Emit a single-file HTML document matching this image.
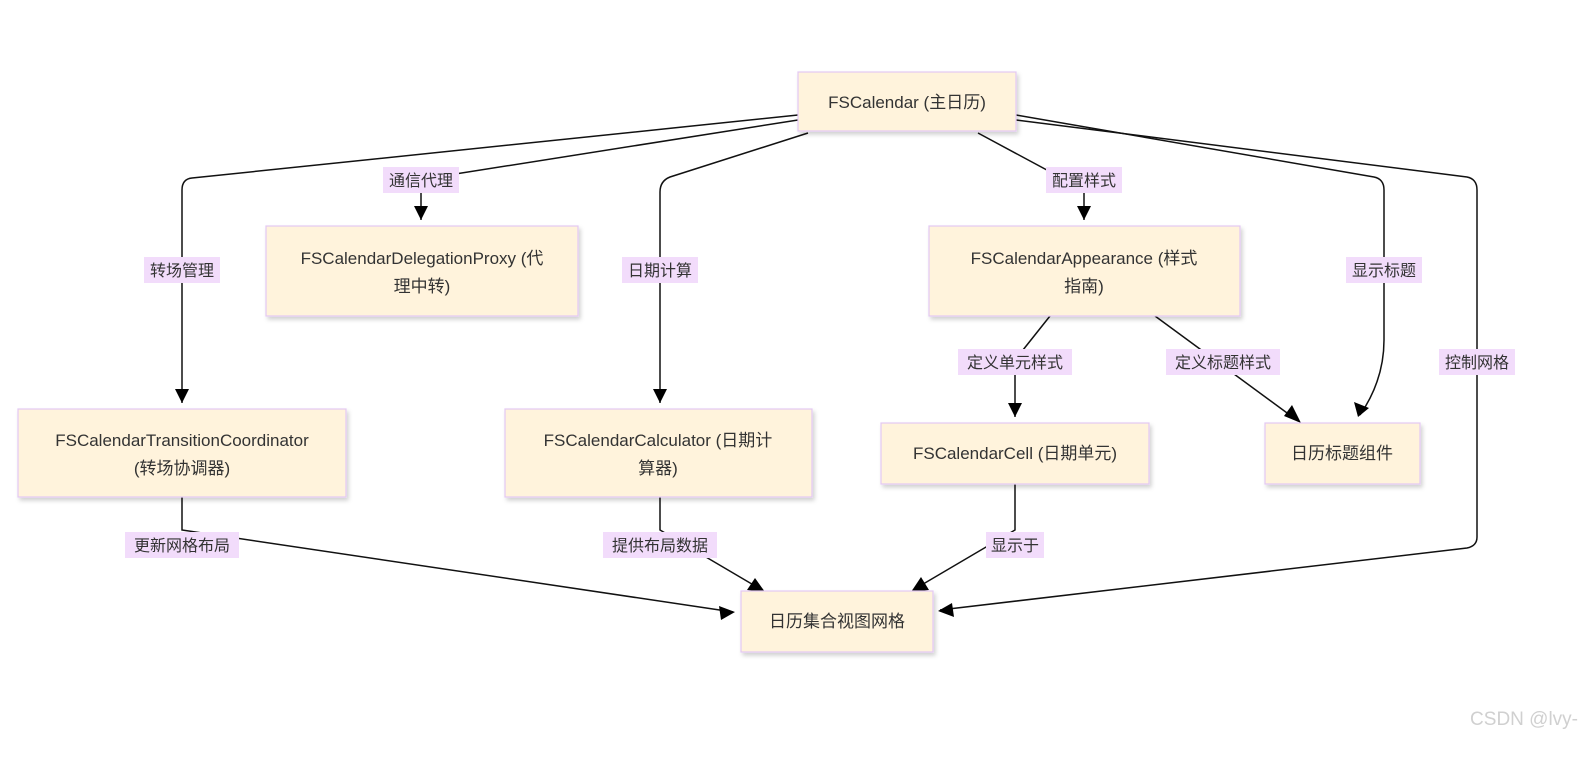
<!DOCTYPE html>
<html><head><meta charset="utf-8"><style>
body{margin:0;background:#fff;width:1589px;height:755px;overflow:hidden;font-family:"Liberation Sans","Noto Sans CJK SC",sans-serif}
</style></head><body>
<svg width="1589" height="755" xmlns="http://www.w3.org/2000/svg" style="font-family:'Liberation Sans','Noto Sans CJK SC',sans-serif">
<defs>
<marker id="a" viewBox="0 0 10 10" refX="9" refY="5" markerWidth="8" markerHeight="8" markerUnits="userSpaceOnUse" orient="auto"><path d="M0,0L10,5L0,10z" fill="#000"/></marker>
<filter id="s" x="-10%" y="-10%" width="130%" height="140%"><feDropShadow dx="2" dy="3" stdDeviation="2" flood-color="#000" flood-opacity="0.18"/></filter>
</defs>
<g fill="none" stroke="#111" stroke-width="1.5">
<path d="M798,115 L192,178 Q182,179 182,190 L182,403" marker-end="url(#arr)"/>
<path d="M798,120 L430,178 Q421,180 421,190 L421,220"/>
<path d="M808,133 L670,177 Q660,181 660,192 L660,403"/>
<path d="M978,133 L1084,190 L1084,220"/>
<path d="M1016,115 L1374,177 Q1384,179 1384,190 L1384,340 Q1384,380 1360,415"/>
<path d="M1016,120 L1467,177 Q1477,179 1477,190 L1477,537 Q1477,546 1467,548 L940,610"/>
<path d="M1050,316 L1015,360 L1015,417"/>
<path d="M1155,316 L1298,421"/>
<path d="M182,497 L182,530 L733,612"/>
<path d="M660,497 L660,530 L762,590"/>
<path d="M1015,484 L1015,530 L913,590"/>
</g>
<g fill="#000">
<path d="M175,389 L189,389 L182,403z"/>
<path d="M414,206 L428,206 L421,220z"/>
<path d="M653,389 L667,389 L660,403z"/>
<path d="M1077,206 L1091,206 L1084,220z"/>
<path d="M1008,403 L1022,403 L1015,417z"/>
<path d="M1354,402 L1369,408 L1358,417z"/>
<path d="M1284,416 L1292,405 L1301,423z"/>
<path d="M719,606 L721,620 L735,612z"/>
<path d="M747,590 L755,578 L765,592z"/>
<path d="M921,577 L929,590 L911,592z"/>
<path d="M952,603 L954,617 L938,611z"/>
</g>
<g fill="#fff3dc" stroke="#e3c8f2" stroke-width="1.2" filter="url(#s)">
<rect x="798" y="72" width="218" height="59"/>
<rect x="266" y="226" width="312" height="90"/>
<rect x="18" y="409" width="328" height="88"/>
<rect x="505" y="409" width="307" height="88"/>
<rect x="929" y="226" width="311" height="90"/>
<rect x="881" y="423" width="268" height="61"/>
<rect x="1265" y="423" width="155" height="61"/>
<rect x="741" y="591" width="192" height="61"/>
</g>
<g fill="#333" font-size="17" text-anchor="middle">
<text x="907" y="108">FSCalendar (主日历)</text>
<text x="422" y="264">FSCalendarDelegationProxy (代</text>
<text x="422" y="292">理中转)</text>
<text x="182" y="446">FSCalendarTransitionCoordinator</text>
<text x="182" y="474">(转场协调器)</text>
<text x="658" y="446">FSCalendarCalculator (日期计</text>
<text x="658" y="474">算器)</text>
<text x="1084" y="264">FSCalendarAppearance (样式</text>
<text x="1084" y="292">指南)</text>
<text x="1015" y="459">FSCalendarCell (日期单元)</text>
<text x="1342" y="459">日历标题组件</text>
<text x="837" y="627">日历集合视图网格</text>
</g>
<g fill="#f2dcfb">
<rect x="383" y="167" width="76" height="26"/>
<rect x="144" y="257" width="76" height="26"/>
<rect x="622" y="257" width="76" height="26"/>
<rect x="1046" y="167" width="76" height="26"/>
<rect x="1346" y="257" width="76" height="26"/>
<rect x="1439" y="349" width="76" height="26"/>
<rect x="958" y="349" width="114" height="26"/>
<rect x="1166" y="349" width="114" height="26"/>
<rect x="125" y="532" width="114" height="26"/>
<rect x="603" y="532" width="114" height="26"/>
<rect x="986" y="532" width="58" height="26"/>
</g>
<g fill="#333" font-size="16" text-anchor="middle">
<text x="421" y="186">通信代理</text>
<text x="182" y="276">转场管理</text>
<text x="660" y="276">日期计算</text>
<text x="1084" y="186">配置样式</text>
<text x="1384" y="276">显示标题</text>
<text x="1477" y="368">控制网格</text>
<text x="1015" y="368">定义单元样式</text>
<text x="1223" y="368">定义标题样式</text>
<text x="182" y="551">更新网格布局</text>
<text x="660" y="551">提供布局数据</text>
<text x="1015" y="551">显示于</text>
</g>
<text x="1578" y="725" fill="#d0d0d0" font-size="19" text-anchor="end">CSDN @lvy-</text>
</svg>
</body></html>
